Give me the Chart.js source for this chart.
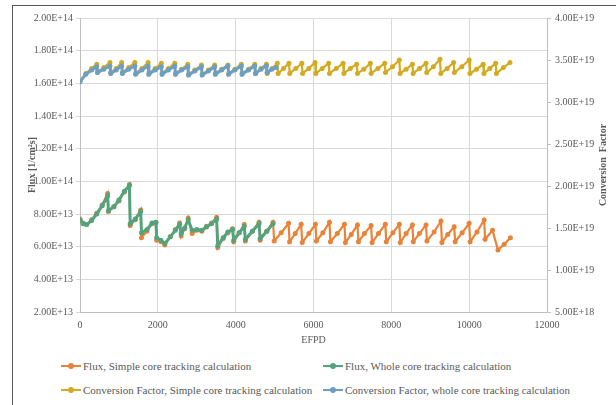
<!DOCTYPE html>
<html>
<head>
<meta charset="utf-8">
<script src="https://cdn.jsdelivr.net/npm/chart.js@4.4.0/dist/chart.umd.min.js"></script>
<style>
  body { margin: 0; background: #fff; }
  #frame { position: absolute; left: 12px; top: 5px; width: 620px; height: 420px; border-left: 1px solid #555; border-top: 1px solid #555; }
  #chart { position: absolute; left: 0; top: 0; }
  .leg { position: absolute; font-family: "Liberation Serif", serif; font-size: 11px; color: #595959; white-space: nowrap; line-height: 14px; }
  .leg i { display: inline-block; position: relative; width: 20px; height: 2px; vertical-align: middle; margin-right: 2px; top: -1px; }
  .leg i b { position: absolute; left: 7px; top: -2px; width: 6px; height: 6px; border-radius: 50%; background: inherit; }
</style>
</head>
<body>
<div id="frame"></div>
<canvas id="chart" width="616" height="350"></canvas>
<div class="leg" style="left:61px;top:359px"><i style="background:#E8833A"><b></b></i>Flux, Simple core tracking calculation</div>
<div class="leg" style="left:323px;top:359px"><i style="background:#55A37D"><b></b></i>Flux, Whole core tracking calculation</div>
<div class="leg" style="left:61px;top:383px"><i style="background:#D4AA22"><b></b></i>Conversion Factor, Simple core tracking calculation</div>
<div class="leg" style="left:323px;top:383px"><i style="background:#6E9FC2"><b></b></i>Conversion Factor, whole core tracking calculation</div>
<script>
// [EFPD, flux in 1E13 1/cm2s]
const fluxSimple = [
  [0,7.70],[80,7.45],[170,7.35],[300,7.65],[430,8.05],[570,8.55],[710,9.25],[730,8.15],[870,8.45],[1000,8.80],
  [1140,9.35],[1270,9.80],[1290,7.30],[1420,7.65],[1560,8.25],[1580,6.55],[1720,6.95],[1850,7.40],[1950,7.50],[1970,6.40],
  [2080,6.30],[2180,6.10],[2320,6.60],[2450,7.05],[2560,7.45],[2600,6.65],[2690,7.10],[2780,7.75],[2880,6.80],[3000,7.00],
  [3130,6.95],[3250,7.25],[3380,7.45],[3510,7.80],[3540,5.95],[3680,6.50],[3800,6.85],[3920,7.10],[3950,6.30],[4090,6.85],
  [4220,7.35],[4250,6.35],[4430,6.95],[4600,7.50],[4630,6.40],[4800,6.95],[4960,7.50],[4990,6.35],[5170,6.85],[5360,7.43],
  [5385,6.30],[5530,6.80],[5683,7.37],[5710,6.25],[5880,6.80],[6050,7.37],[6075,6.35],[6240,6.85],[6410,7.49],[6435,6.30],
  [6610,6.80],[6795,7.37],[6820,6.25],[6970,6.75],[7130,7.33],[7155,6.30],[7310,6.80],[7480,7.29],[7505,6.25],[7670,6.80],
  [7845,7.37],[7870,6.30],[8040,6.85],[8205,7.37],[8230,6.25],[8380,6.80],[8540,7.33],[8565,6.30],[8720,6.80],[8890,7.33],
  [8915,6.35],[9100,6.90],[9275,7.57],[9300,6.25],[9450,6.75],[9615,7.22],[9640,6.30],[9820,6.85],[10000,7.43],[10025,6.30],
  [10200,6.90],[10385,7.63],[10410,6.45],[10600,7.00],[10740,5.80],[10900,6.15],[11060,6.55]
];
const fluxWhole = [
  [0,7.65],[80,7.40],[170,7.35],[300,7.60],[430,8.00],[570,8.50],[710,9.10],[730,8.20],[870,8.45],[1000,8.85],
  [1140,9.40],[1270,9.75],[1290,7.40],[1420,7.70],[1560,8.15],[1580,6.85],[1720,7.05],[1850,7.45],[1950,7.50],[1970,6.55],
  [2080,6.40],[2180,6.20],[2320,6.60],[2450,7.00],[2560,7.35],[2600,6.80],[2690,7.15],[2780,7.65],[2880,7.00],[3000,7.05],
  [3130,7.00],[3250,7.20],[3380,7.40],[3510,7.70],[3540,6.05],[3680,6.55],[3800,6.90],[3920,7.05],[3950,6.40],[4090,6.85],
  [4220,7.25],[4250,6.45],[4430,6.95],[4600,7.40],[4630,6.50],[4800,6.95],[4960,7.40]
];
// [EFPD, conversion factor in 1E19]
const cfSimple = [
  [0,3.25],[150,3.34],[300,3.40],[430,3.45],[450,3.36],[610,3.41],[770,3.47],[790,3.35],[930,3.40],[1070,3.47],
  [1090,3.35],[1250,3.41],[1410,3.47],[1430,3.34],[1590,3.40],[1750,3.47],[1770,3.34],[1930,3.40],[2090,3.46],[2110,3.34],
  [2270,3.40],[2435,3.46],[2455,3.34],[2610,3.39],[2770,3.45],[2790,3.33],[2950,3.38],[3120,3.44],[3140,3.33],[3300,3.38],
  [3460,3.44],[3480,3.34],[3640,3.39],[3800,3.44],[3820,3.34],[3980,3.39],[4145,3.45],[4165,3.34],[4330,3.39],[4490,3.45],
  [4510,3.34],[4650,3.40],[4790,3.45],[4810,3.34],[4940,3.40],[5070,3.46],[5090,3.34],[5230,3.40],[5370,3.46],[5390,3.34],
  [5545,3.40],[5700,3.46],[5720,3.34],[5880,3.40],[6040,3.47],[6060,3.34],[6225,3.40],[6390,3.46],[6410,3.34],[6585,3.40],
  [6760,3.46],[6780,3.34],[6945,3.40],[7110,3.45],[7130,3.34],[7295,3.39],[7460,3.46],[7480,3.34],[7655,3.40],[7830,3.46],
  [7850,3.35],[8030,3.42],[8205,3.50],[8225,3.34],[8380,3.39],[8540,3.45],[8560,3.34],[8725,3.40],[8890,3.46],[8910,3.35],
  [9080,3.42],[9250,3.51],[9270,3.34],[9435,3.40],[9600,3.47],[9620,3.35],[9810,3.42],[10000,3.50],[10020,3.34],[10190,3.39],
  [10360,3.45],[10380,3.34],[10530,3.40],[10680,3.46],[10700,3.34],[10880,3.41],[11050,3.47]
];
const cfWhole = [
  [0,3.24],[150,3.33],[300,3.38],[430,3.42],[450,3.35],[610,3.39],[770,3.43],[790,3.34],[930,3.38],[1070,3.43],
  [1090,3.34],[1250,3.39],[1410,3.43],[1430,3.33],[1590,3.38],[1750,3.43],[1770,3.33],[1930,3.38],[2090,3.42],[2110,3.33],
  [2270,3.38],[2435,3.43],[2455,3.33],[2610,3.38],[2770,3.42],[2790,3.32],[2950,3.37],[3120,3.42],[3140,3.32],[3300,3.37],
  [3460,3.42],[3480,3.33],[3640,3.38],[3800,3.43],[3820,3.33],[3980,3.38],[4145,3.43],[4165,3.33],[4330,3.38],[4490,3.43],
  [4510,3.34],[4650,3.39],[4790,3.43],[4810,3.35],[4930,3.39],[5040,3.41]
];

const fluxTicks = { min: 2, max: 20, step: 2 };
const cfTicks = { min: 0.5, max: 4, step: 0.5 };
const dayTicks = { min: 0, max: 12000, step: 2000 };

const serif = '"Liberation Serif", "Times New Roman", serif';
Chart.defaults.font.family = serif;
Chart.defaults.color = '#595959';

// order: lower number is drawn on top (whole core over simple core)
function series(label, pts, color, axis, order, width) {
  return {
    label: label,
    data: pts.map(p => ({ x: p[0], y: p[1] })),
    yAxisID: axis,
    order: order,
    borderColor: color,
    backgroundColor: color,
    borderWidth: width,
    pointRadius: 2.5,
    pointBorderWidth: 0,
    pointBackgroundColor: color,
    tension: 0
  };
}

const sci = (v, unit) => (v * unit).toExponential(2).toUpperCase();

// right axis title reads bottom to top
const rightTitle = {
  id: 'rightTitle',
  afterDraw(chart) {
    const c = chart.ctx;
    const a = chart.chartArea;
    c.save();
    c.translate(603, (a.top + a.bottom) / 2);
    c.rotate(-Math.PI / 2);
    c.font = 'bold 10px ' + serif;
    c.fillStyle = '#595959';
    c.textAlign = 'center';
    c.textBaseline = 'middle';
    c.fillText('Conversion  Factor', 0, 0);
    c.restore();
  }
};

new Chart(document.getElementById('chart'), {
  type: 'line',
  data: {
    datasets: [
      series('Flux, Simple core tracking calculation', fluxSimple, '#E8833A', 'y', 4, 2.2),
      series('Flux, Whole core tracking calculation', fluxWhole, '#55A37D', 'y', 3, 3),
      series('Conversion Factor, Simple core tracking calculation', cfSimple, '#D4AA22', 'y1', 2, 2.2),
      series('Conversion Factor, whole core tracking calculation', cfWhole, '#6E9FC2', 'y1', 1, 3)
    ]
  },
  options: {
    responsive: false,
    animation: false,
    layout: { padding: { left: 0, right: 0, top: 18, bottom: 0 } },
    plugins: { legend: { display: false }, tooltip: { enabled: false } },
    scales: {
      x: {
        type: 'linear', min: dayTicks.min, max: dayTicks.max,
        ticks: { stepSize: dayTicks.step, callback: v => String(v), font: { size: 10 }, padding: 7, maxRotation: 0 },
        grid: { color: '#d9d9d9', drawTicks: false },
        border: { color: '#bfbfbf' },
        title: { display: true, text: 'EFPD', font: { size: 10 }, padding: { top: 0, bottom: 4 } },
        afterFit: s => { s.height = 38; }
      },
      y: {
        position: 'left', min: fluxTicks.min, max: fluxTicks.max,
        ticks: { stepSize: fluxTicks.step, callback: v => sci(v, 1e13), font: { size: 10 }, padding: 3 },
        grid: { color: '#d9d9d9', tickLength: 4 },
        border: { color: '#bfbfbf' },
        title: { display: true, text: 'Flux [1/cm²s]', font: { size: 10, weight: 'bold' }, padding: { top: 26, bottom: 0 } },
        afterFit: s => { s.width = 80; }
      },
      y1: {
        position: 'right', min: cfTicks.min, max: cfTicks.max,
        ticks: { stepSize: cfTicks.step, callback: v => sci(v, 1e19), font: { size: 10 }, padding: 4 },
        grid: { drawOnChartArea: false, color: '#bfbfbf', tickLength: 4 },
        border: { color: '#bfbfbf' },
        afterFit: s => { s.width = 69; }
      }
    }
  },
  plugins: [rightTitle]
});
</script>
</body>
</html>
